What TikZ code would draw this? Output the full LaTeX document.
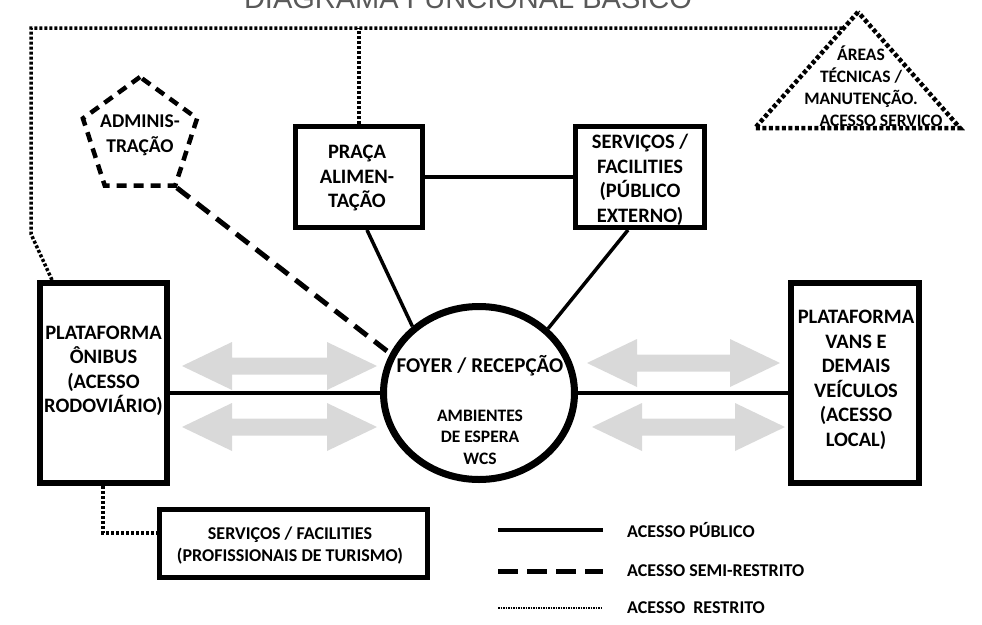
\documentclass[tikz,border=0pt]{standalone}
\usepackage{fontspec}
\setmainfont{Carlito}
\newfontfamily\titlefont{Liberation Sans}
\usetikzlibrary{shapes.geometric,calc}
\definecolor{arrowgray}{RGB}{217,217,217}
\definecolor{titlegray}{RGB}{89,89,89}
\newcommand{\dblarr}[4]{% name, x1, x2, y
  \fill[arrowgray] (#2,#4) -- (#2+50,#4-24) -- (#2+50,#4-8.5) -- (#3-50,#4-8.5) -- (#3-50,#4-24) -- (#3,#4)
   -- (#3-50,#4+24) -- (#3-50,#4+8.5) -- (#2+50,#4+8.5) -- (#2+50,#4+24) -- cycle;}
\begin{document}
\begin{tikzpicture}[x=1pt,y=-1pt,
  boxthick/.style={draw, rectangle, line width=6pt, inner sep=0pt},
  boxmid/.style={draw, rectangle, line width=5pt, inner sep=0pt},
  txt/.style={font=\bfseries\fontsize{20.5}{24.5}\selectfont, align=center, inner sep=0pt},
  smalltxt/.style={font=\bfseries\fontsize{18}{22}\selectfont, align=center, inner sep=0pt},
  legtxt/.style={font=\bfseries\fontsize{18}{20}\selectfont, anchor=west, inner sep=0pt},
  public/.style={line width=3.5pt},
  semi/.style={line width=5pt, dash pattern=on 16pt off 9pt},
  restricted/.style={line width=3.5pt, dash pattern=on 3pt off 2pt},
  trianglestyle/.style={line width=4.5pt, dash pattern=on 4pt off 2.5pt},
]
\useasboundingbox (0,0) rectangle (982,624);

% title (cut off at top)
\node[font=\titlefont\fontsize{29}{29}\selectfont, text=titlegray, anchor=base, inner sep=0pt] (title) at (468,8) {DIAGRAMA FUNCIONAL BÁSICO};

% gray double arrows
\dblarr{a1}{182}{377}{366}
\dblarr{a2}{182}{377}{427}
\dblarr{a3}{587}{780}{363}
\dblarr{a4}{592}{785}{427}

% boxes
\node[boxthick, minimum width=127pt, minimum height=200pt] (onibus) at (103.5,383) {};
\node[txt] (onibusT) at (103.5,371) {PLATAFORMA\\ÔNIBUS\\(ACESSO\\RODOVIÁRIO)};

\node[boxthick, minimum width=128pt, minimum height=200pt] (vans) at (855,383) {};
\node[txt] (vansT) at (856,380) {PLATAFORMA\\VANS E\\DEMAIS\\VEÍCULOS\\(ACESSO\\LOCAL)};

\node[boxmid, minimum width=127pt, minimum height=101pt] (praca) at (359,177) {};
\node[txt] (pracaT) at (357,178) {PRAÇA\\ALIMEN-\\TAÇÃO};

\node[boxmid, minimum width=129pt, minimum height=101pt] (servpub) at (640,177) {};
\node[txt] (servpubT) at (640,180) {SERVIÇOS /\\FACILITIES\\(PÚBLICO\\EXTERNO)};

\node[boxmid, minimum width=268pt, minimum height=68pt] (servprof) at (293.5,543.5) {};
\node[smalltxt] (servprofT) at (290,546) {SERVIÇOS / FACILITIES\\(PROFISSIONAIS DE TURISMO)};

% pentagon
\node[regular polygon, regular polygon sides=5, minimum size=120pt, draw, line width=4.5pt,
      dash pattern=on 10pt off 7pt, inner sep=0pt] (admin) at (140,137) {};
\node[txt, font=\bfseries\fontsize{19.5}{25}\selectfont] (adminT) at (140,135) {ADMINIS-\\TRAÇÃO};

% ellipse
\node[ellipse, draw, line width=7pt, minimum width=191pt, minimum height=173pt, inner sep=0pt] (foyer) at (479,393) {};
\node[font=\bfseries\fontsize{21}{24}\selectfont, inner sep=0pt] (foyerT) at (480,366) {FOYER / RECEPÇÃO};
\node[font=\bfseries\fontsize{17.5}{21.5}\selectfont, align=center, inner sep=0pt] (ambT) at (480,437) {AMBIENTES\\DE ESPERA\\WCS};

% triangle
\coordinate (tA) at (858,12);
\coordinate (tL) at (755,128);
\coordinate (tR) at (960,128);
\draw[trianglestyle] (tA) -- (tL) -- (tR) -- cycle;
\node[smalltxt, font=\bfseries\fontsize{17.5}{22}\selectfont] (triT) at (861,88) {ÁREAS\\TÉCNICAS /\\MANUTENÇÃO.\\\hspace*{40pt}ACESSO SERVIÇO};

% public connectors
\draw[public] (praca.east) -- (servpub.west);
\draw[public] ($(praca.south)+(8,0)$) -- (foyer.135);
\draw[public] ($(servpub.south)+(-12,0)$) -- (foyer.43);
\draw[public] (foyer.west -| onibus.east) -- (foyer.west);
\draw[public] (foyer.east) -- (foyer.east -| vans.west);

% semi-restricted
\draw[semi] (admin.corner 4) -- (foyer.156);

% restricted
\coordinate (topleft) at (31,28);
\coordinate (leftbend) at (31,234);
\coordinate (topend) at ($(tA)!0.138!(tL)$);
\draw[restricted] ($(onibus.north west)+(15,0)$) -- (leftbend) -- (topleft) -- (topend);
\draw[restricted] (praca.north) -- (praca.north |- topleft);
\coordinate (bend) at (103,533);
\draw[restricted] (onibus.south -| bend) -- (bend) -- (bend -| servprof.west);

% legend
\coordinate (l1a) at (498,530); \coordinate (l1b) at (603,530);
\coordinate (l2a) at (498,571); \coordinate (l2b) at (603,571);
\coordinate (l3a) at (498,608); \coordinate (l3b) at (603,608);
\draw[line width=4pt] (l1a) -- (l1b);
\draw[line width=5pt, dash pattern=on 20pt off 9pt] (l2a) -- (l2b);
\draw[line width=2.5pt, dash pattern=on 1.5pt off 1pt] (l3a) -- (l3b);
\node[legtxt] (leg1) at (627,530) {ACESSO PÚBLICO};
\node[legtxt] (leg2) at (627,571) {ACESSO SEMI-RESTRITO};
\node[legtxt] (leg3) at (627,608) {ACESSO\ \ RESTRITO};
\end{tikzpicture}
\end{document}
